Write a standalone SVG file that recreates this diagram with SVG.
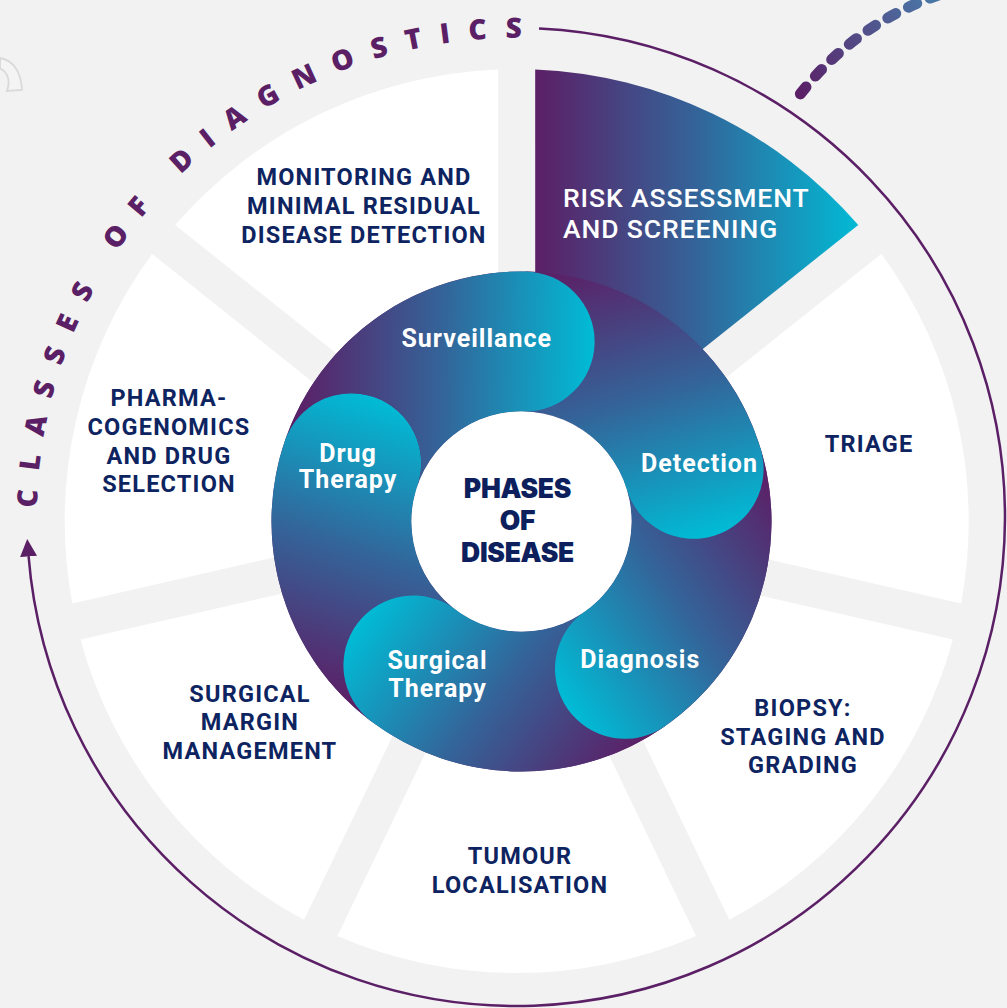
<svg xmlns="http://www.w3.org/2000/svg" width="1007" height="1008" viewBox="0 0 1007 1008">
<defs>
<style>
.bg{fill:#f2f2f2}
.wedge{fill:#ffffff}
.cat{font-family:Roboto,"Liberation Sans",sans-serif;font-weight:700;font-size:23.5px;fill:#0d2461;text-anchor:middle;letter-spacing:1.2px}
.risk{font-family:Roboto,"Liberation Sans",sans-serif;font-weight:500;font-size:26.5px;fill:#ffffff;letter-spacing:0.9px}
.phase{font-family:Roboto,"Liberation Sans",sans-serif;font-weight:700;font-size:25px;fill:#ffffff;text-anchor:middle;letter-spacing:1px}
.center{font-family:Inter,"Liberation Sans",sans-serif;font-weight:900;font-size:26.5px;fill:#0d1f5c;text-anchor:middle;letter-spacing:-0.3px}
.curve{font-family:"Open Sans","Liberation Sans",sans-serif;font-weight:800;font-size:28px;fill:#5b1f66;letter-spacing:18.3px}
.outline{fill:none;stroke:#5b1f66;stroke-width:2.5}
</style>
<linearGradient id="gRisk" gradientUnits="userSpaceOnUse" x1="535" y1="0" x2="862" y2="0">
<stop offset="0" stop-color="#5c1f66"/><stop offset="0.5" stop-color="#33659a"/><stop offset="1" stop-color="#00bcd6"/>
</linearGradient>
<linearGradient id="gL0" gradientUnits="userSpaceOnUse" x1="294.68" y1="337.51" x2="594.63" y2="342.75">
<stop offset="0" stop-color="#5c1f66"/><stop offset="0.5" stop-color="#33659a"/><stop offset="1" stop-color="#00bcd6"/>
</linearGradient>
<linearGradient id="gL1" gradientUnits="userSpaceOnUse" x1="626.40" y1="248.92" x2="714.11" y2="535.81">
<stop offset="0" stop-color="#5c1f66"/><stop offset="0.5" stop-color="#33659a"/><stop offset="1" stop-color="#00bcd6"/>
</linearGradient>
<linearGradient id="gL2" gradientUnits="userSpaceOnUse" x1="813.15" y1="537.03" x2="567.40" y2="709.10">
<stop offset="0" stop-color="#5c1f66"/><stop offset="0.5" stop-color="#33659a"/><stop offset="1" stop-color="#00bcd6"/>
</linearGradient>
<linearGradient id="gL3" gradientUnits="userSpaceOnUse" x1="596.86" y1="803.66" x2="357.27" y2="623.12">
<stop offset="0" stop-color="#5c1f66"/><stop offset="0.5" stop-color="#33659a"/><stop offset="1" stop-color="#00bcd6"/>
</linearGradient>
<linearGradient id="gL4" gradientUnits="userSpaceOnUse" x1="276.43" y1="680.37" x2="374.10" y2="396.71">
<stop offset="0" stop-color="#5c1f66"/><stop offset="0.5" stop-color="#33659a"/><stop offset="1" stop-color="#00bcd6"/>
</linearGradient>
<linearGradient id="gDash" gradientUnits="userSpaceOnUse" x1="800" y1="95" x2="930" y2="0">
<stop offset="0" stop-color="#5b1f66"/><stop offset="1" stop-color="#4a76a6"/>
</linearGradient>
<marker id="arrow" markerUnits="userSpaceOnUse" markerWidth="18" markerHeight="17" viewBox="0 0 18 17" refX="1" refY="8.5" orient="auto">
<path d="M0,0 L17.5,8.5 L0,17 Z" fill="#5b1f66"/>
</marker>
<path id="arcText" d="M 37,517 A 479 479 0 0 1 541.1,38.7"/>
</defs>

<rect class="bg" x="0" y="0" width="1007" height="1008"/>

<path d="M0,58 C12,60 21,70 22,90 L7,91 C11,80 7,71 0,68.5 Z" fill="#f4f4f4" stroke="#d9d9d9" stroke-width="1.8"/>

<g id="connectors">
<path class="outline" d="M 539.0,28.5 A 489 489 0 1 1 28.5,555.4" marker-end="url(#arrow)"/>
<path d="M 800.4,93.9 A 297.5 297.5 0 0 1 994.1,-18.4" fill="none" stroke="url(#gDash)" stroke-width="11" stroke-linecap="round" stroke-dasharray="9 14.3"/>
</g>

<g id="title-classes-of-diagnostics">
<text class="curve"><textPath href="#arcText" startOffset="9">CLASSES OF DIAGNOSTICS</textPath></text>
</g>

<g id="node-risk-assessment">
<path d="M 535.2,482.58 L 535.2,69.38 A 452 452 0 0 1 858.26,224.96 Z" fill="url(#gRisk)"/>
<text class="risk"><tspan x="563" y="206.5">RISK ASSESSMENT</tspan><tspan x="563" y="238">AND SCREENING</tspan></text>
</g>
<g id="node-triage">
<path class="wedge" d="M 558.27,511.51 L 881.33,253.88 A 452 452 0 0 1 961.12,603.45 Z"/>
<text class="cat" x="869" y="452">TRIAGE</text>
</g>
<g id="node-biopsy">
<path class="wedge" d="M 550.04,547.59 L 952.88,639.53 A 452 452 0 0 1 729.32,919.86 Z"/>
<text class="cat"><tspan x="803" y="716">BIOPSY:</tspan><tspan x="803" y="744.5">STAGING AND</tspan><tspan x="803" y="773">GRADING</tspan></text>
</g>
<g id="node-tumour-localisation">
<path class="wedge" d="M 516.7,563.64 L 695.98,935.92 A 452 452 0 0 1 337.42,935.92 Z"/>
<text class="cat"><tspan x="520" y="864">TUMOUR</tspan><tspan x="520" y="893">LOCALISATION</tspan></text>
</g>
<g id="node-surgical-margin">
<path class="wedge" d="M 483.36,547.59 L 304.08,919.86 A 452 452 0 0 1 80.52,639.53 Z"/>
<text class="cat"><tspan x="250" y="701.5">SURGICAL</tspan><tspan x="250" y="730">MARGIN</tspan><tspan x="250" y="759">MANAGEMENT</tspan></text>
</g>
<g id="node-pharmacogenomics">
<path class="wedge" d="M 475.13,511.51 L 72.28,603.45 A 452 452 0 0 1 152.08,253.88 Z"/>
<text class="cat"><tspan x="169" y="406">PHARMA-</tspan><tspan x="169" y="435">COGENOMICS</tspan><tspan x="169" y="463.5">AND DRUG</tspan><tspan x="169" y="492">SELECTION</tspan></text>
</g>
<g id="node-monitoring">
<path class="wedge" d="M 498.2,482.58 L 175.15,224.96 A 452 452 0 0 1 498.2,69.38 Z"/>
<text class="cat"><tspan x="364" y="185">MONITORING AND</tspan><tspan x="364" y="214">MINIMAL RESIDUAL</tspan><tspan x="364" y="243">DISEASE DETECTION</tspan></text>
</g>

<path d="M 771.5,521.5 A 250 250 0 1 1 271.5,521.5 A 250 250 0 1 1 771.5,521.5 Z M 631.5,521.5 A 110 110 0 1 0 411.5,521.5 A 110 110 0 1 0 631.5,521.5 Z" fill="#523474" fill-rule="evenodd"/>

<g id="node-drug-therapy">
<path d="M 371.05,721.16 A 250 250 0 0 1 285.12,440.11 A 70 70 0 0 1 417.49,485.69 A 110 110 0 0 0 455.30,609.35 Z" fill="url(#gL4)"/>
<text class="phase"><tspan x="348" y="461.7">Drug</tspan><tspan x="348" y="488.3">Therapy</tspan></text>
</g>
<g id="node-surgical-therapy">
<path d="M 664.89,726.29 A 250 250 0 0 1 371.05,721.16 A 70 70 0 0 1 455.30,609.35 A 110 110 0 0 0 584.59,611.61 Z" fill="url(#gL3)"/>
<text class="phase"><tspan x="437.5" y="669.3">Surgical</tspan><tspan x="437.5" y="696.7">Therapy</tspan></text>
</g>
<g id="node-diagnosis">
<path d="M 760.58,448.41 A 250 250 0 0 1 664.89,726.29 A 70 70 0 0 1 584.59,611.61 A 110 110 0 0 0 626.69,489.34 Z" fill="url(#gL2)"/>
<text class="phase" x="640.3" y="668.3">Diagnosis</text>
</g>
<g id="node-detection">
<path d="M 525.86,271.54 A 250 250 0 0 1 760.58,448.41 A 70 70 0 0 1 626.69,489.34 A 110 110 0 0 0 523.42,411.52 Z" fill="url(#gL1)"/>
<text class="phase" x="699.5" y="471.7">Detection</text>
</g>
<g id="node-surveillance">
<path d="M 285.12,440.11 A 250 250 0 0 1 525.86,271.54 A 70 70 0 0 1 523.42,411.52 A 110 110 0 0 0 417.49,485.69 A 70 70 0 0 0 285.12,440.11 Z" fill="url(#gL0)"/>
<text class="phase" x="476.7" y="347.3">Surveillance</text>
</g>

<g id="node-phases-of-disease">
<circle cx="521.5" cy="521.5" r="110" fill="#ffffff"/>
<text class="center"><tspan x="517.5" y="498">PHASES</tspan><tspan x="517.5" y="530">OF</tspan><tspan x="517.5" y="561.5">DISEASE</tspan></text>
</g>
</svg>
